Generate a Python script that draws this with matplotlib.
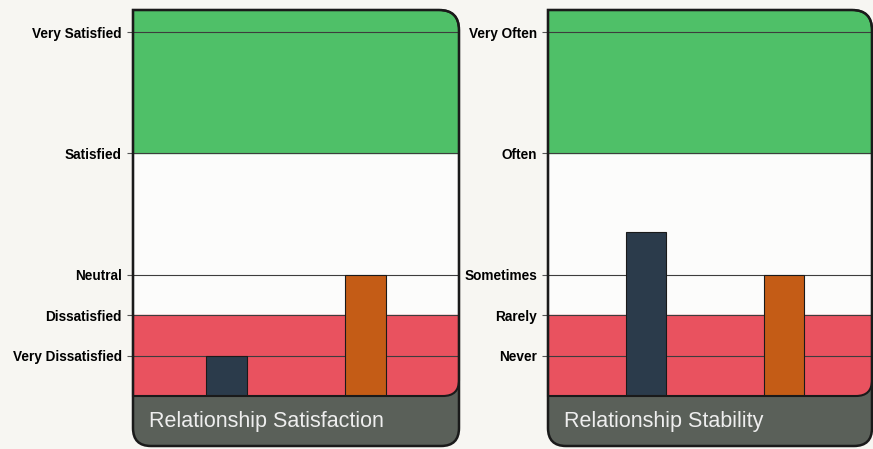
import numpy as np
import matplotlib.pyplot as plt
from matplotlib.path import Path
from matplotlib.patches import PathPatch

W, H = 873, 449

# tick levels (non-linear spacing as in the original chart)
level_pos = [0, 1, 2, 5, 8]
sat_labels = ["Very Dissatisfied", "Dissatisfied", "Neutral", "Satisfied", "Very Satisfied"]
stab_labels = ["Never", "Rarely", "Sometimes", "Often", "Very Often"]

bar_x = [0, 1]
sat_values = [0.0, 2.0]
stab_values = [3.05, 2.0]
titles = ["Relationship Satisfaction", "Relationship Stability"]

bar_colors = ["#2b3b4b", "#c45c16"]
green = "#4fc068"
red = "#e9525f"
footer_gray = "#5a6059"
bg_color = "#f7f6f2"

# panel geometry in pixels
panels_x = [(133, 459), (548, 872)]
panels_xlim = [(-0.674, 1.674), (-0.709, 1.638)]
top, plot_bottom, footer_bottom = 10, 396, 446
y_lo, y_hi = -1.0, 8.55


def rounded_path(x0, y0, x1, y1, r_tl, r_tr, r_br, r_bl):
    verts = [(x0 + r_tl, y0), (x1 - r_tr, y0), (x1, y0), (x1, y0 + r_tr),
             (x1, y1 - r_br), (x1, y1), (x1 - r_br, y1),
             (x0 + r_bl, y1), (x0, y1), (x0, y1 - r_bl),
             (x0, y0 + r_tl), (x0, y0), (x0 + r_tl, y0), (x0 + r_tl, y0)]
    codes = [Path.MOVETO, Path.LINETO, Path.CURVE3, Path.CURVE3,
             Path.LINETO, Path.CURVE3, Path.CURVE3,
             Path.LINETO, Path.CURVE3, Path.CURVE3,
             Path.LINETO, Path.CURVE3, Path.CURVE3, Path.CLOSEPOLY]
    return Path(verts, codes)


fig = plt.figure(figsize=(W / 100, H / 100), dpi=100, facecolor=bg_color)
bg = fig.add_axes([0, 0, 1, 1])
bg.set_xlim(0, W)
bg.set_ylim(H, 0)
bg.axis("off")

tick_font = dict(family=["Liberation Sans Narrow", "Liberation Sans"], weight="bold", size=9.8)

for (x0, x1), xlim, labels, values, title in zip(panels_x, panels_xlim,
                                                  [sat_labels, stab_labels],
                                                  [sat_values, stab_values], titles):
    outline = rounded_path(x0, top, x1, footer_bottom, 0, 20, 18, 18)
    plot_area = rounded_path(x0, top, x1, plot_bottom, 0, 20, 16, 0)
    bg.add_patch(PathPatch(outline, facecolor=footer_gray, edgecolor="none", zorder=1))
    bg.add_patch(PathPatch(plot_area, facecolor="#fcfcfb", edgecolor="none", zorder=2))
    bg.text(x0 + 16, (plot_bottom + footer_bottom) / 2 + 1, title, color="#eeeeee",
            fontsize=15.5, family="Liberation Sans", va="center", ha="left", zorder=3)

    ax = fig.add_axes([x0 / W, 1 - plot_bottom / H, (x1 - x0) / W, (plot_bottom - top) / H])
    ax.set_facecolor("none")
    ax.set_xlim(*xlim)
    ax.set_ylim(y_lo, y_hi)
    for s in ax.spines.values():
        s.set_visible(False)
    ax.set_xticks([])
    ax.set_yticks(level_pos)
    ax.set_yticklabels(labels, fontdict=tick_font)
    ax.tick_params(axis="y", length=4, width=0.8, color="#555555", pad=4)

    clip = PathPatch(plot_area, transform=bg.transData, facecolor="none", edgecolor="none")
    ax.add_patch(clip)
    g = ax.axhspan(level_pos[3], y_hi, color=green, zorder=0)
    r = ax.axhspan(y_lo, level_pos[1], color=red, zorder=0)
    g.set_clip_path(clip)
    r.set_clip_path(clip)
    for lv in level_pos:
        ln = ax.axhline(lv, color="#3d3d3d", lw=0.8, zorder=1)
        ln.set_clip_path(clip)

    ax.bar(bar_x, np.array(values) - y_lo, bottom=y_lo, width=0.29,
           color=bar_colors, edgecolor="#1a1a1a", linewidth=0.8, zorder=3)

    ax.add_patch(PathPatch(plot_area, transform=bg.transData, facecolor="none",
                           edgecolor="#1a1a1a", lw=1.5, clip_on=False, zorder=5))
    ax.add_patch(PathPatch(outline, transform=bg.transData, facecolor="none",
                           edgecolor="#1a1a1a", lw=1.8, clip_on=False, zorder=6))

fig.savefig("out.png", dpi=100, facecolor=bg_color)
